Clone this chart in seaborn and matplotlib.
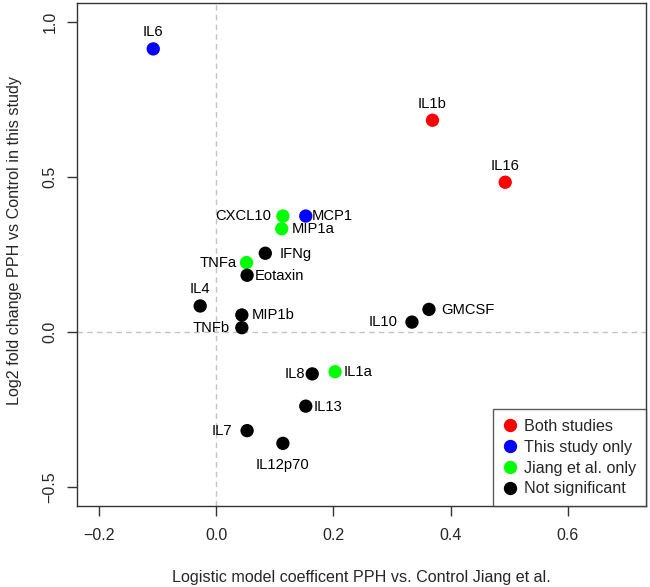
import matplotlib
matplotlib.use("Agg")
import matplotlib.pyplot as plt
import seaborn as sns
import pandas as pd

names = ["IL6", "IL1b", "IL16", "CXCL10", "MCP1", "MIP1a", "IFNg", "TNFa", "Eotaxin",
         "IL4", "MIP1b", "TNFb", "GMCSF", "IL10", "IL8", "IL1a", "IL13", "IL7", "IL12p70"]
coef_jiang = [-0.107, 0.369, 0.493, 0.114, 0.153, 0.112, 0.084, 0.052, 0.053,
              -0.027, 0.044, 0.044, 0.363, 0.334, 0.164, 0.203, 0.153, 0.053, 0.114]
log2fc = [0.912, 0.682, 0.482, 0.373, 0.373, 0.332, 0.253, 0.223, 0.182,
          0.083, 0.054, 0.013, 0.072, 0.031, -0.136, -0.129, -0.240, -0.319, -0.360]
groups = ["This study only", "Both studies", "Both studies", "Jiang et al. only", "This study only",
          "Jiang et al. only", "Not significant", "Jiang et al. only", "Not significant",
          "Not significant", "Not significant", "Not significant", "Not significant", "Not significant",
          "Not significant", "Jiang et al. only", "Not significant", "Not significant", "Not significant"]
label_pos = ["top", "top", "top", "left", "right", "right", "right", "left", "right",
             "top", "right", "left", "right", "left", "left", "right", "right", "left", "bottom"]
legend_order = ["Both studies", "This study only", "Jiang et al. only", "Not significant"]
palette = {"Both studies": "#ff0000", "This study only": "#0000ff",
           "Jiang et al. only": "#00ff00", "Not significant": "#000000"}

df = pd.DataFrame({"name": names, "x": coef_jiang, "y": log2fc, "group": groups})

sns.set_style("white")
plt.rcParams["font.family"] = ["Liberation Sans", "DejaVu Sans"]

fig = plt.figure(figsize=(6.5, 5.87), dpi=100)
ax = fig.add_axes([77 / 650, 1 - 506 / 587, (646 - 77) / 650, (506 - 3) / 587])

ax.axhline(0, color="#c4c4c4", linestyle=(0, (4, 3)), linewidth=1, zorder=0)
ax.axvline(0, color="#c4c4c4", linestyle=(0, (4, 3)), linewidth=1, zorder=0)

sns.scatterplot(data=df, x="x", y="y", hue="group", hue_order=legend_order, palette=palette,
                s=92, linewidth=0, ax=ax, zorder=3)

# label gap (points) from point centre to the text edge
gap = {"IL6": 12, "IL1b": 12, "IL16": 12, "IL4": 12, "IL12p70": 15.5,
       "MCP1": 4.5, "MIP1a": 7.5, "IFNg": 10, "Eotaxin": 5.8, "MIP1b": 7.2, "GMCSF": 8.6,
       "IL1a": 5.8, "IL13": 5.8,
       "CXCL10": 8.6, "TNFa": 6.8, "TNFb": 8.6, "IL10": 10.4, "IL8": 5, "IL7": 11}
for n, xv, yv, p in zip(names, coef_jiang, log2fc, label_pos):
    g = gap[n]
    if p == "top":
        dx, dy, ha, va = 0, g, "center", "center"
    elif p == "bottom":
        dx, dy, ha, va = 0, -g, "center", "center"
    elif p == "left":
        dx, dy, ha, va = -g, 0.8, "right", "center_baseline"
    else:
        dx, dy, ha, va = g, 0.8, "left", "center_baseline"
    ax.annotate(n, (xv, yv), xytext=(dx, dy), textcoords="offset points",
                ha=ha, va=va, fontsize=10.6, color="black", zorder=4)

ax.set_xlim(-0.237, 0.733)
ax.set_ylim(-0.562, 1.060)
ax.set_xticks([-0.2, 0.0, 0.2, 0.4, 0.6])
ax.set_yticks([-0.5, 0.0, 0.5, 1.0])
ax.set_xticklabels(["\u22120.2", "0.0", "0.2", "0.4", "0.6"])
ax.set_yticklabels(["\u22120.5", "0.0", "0.5", "1.0"], rotation=90, va="center")
ax.tick_params(axis="both", direction="out", length=7.2, width=1, labelsize=11.5,
               bottom=True, left=True, color="#333333")
ax.tick_params(axis="x", pad=9)
ax.tick_params(axis="y", pad=7)
for sp in ax.spines.values():
    sp.set_color("#333333")
    sp.set_linewidth(1)

ax.set_xlabel("Logistic model coefficent PPH vs. Control Jiang et al.", fontsize=11.6, labelpad=19)
ax.set_ylabel("Log2 fold change PPH vs Control in this study", fontsize=11.6)
ax.yaxis.set_label_coords(-0.097, 0.527)

leg = ax.legend(loc="lower right", borderaxespad=0, frameon=True, fancybox=False,
                fontsize=11.6, handletextpad=0.35, labelspacing=0.36, borderpad=0.6,
                handlelength=1.0, markerscale=1.0, title=None)
leg.get_frame().set_edgecolor("#333333")
leg.get_frame().set_linewidth(1)

fig.savefig("out.png", dpi=100)
